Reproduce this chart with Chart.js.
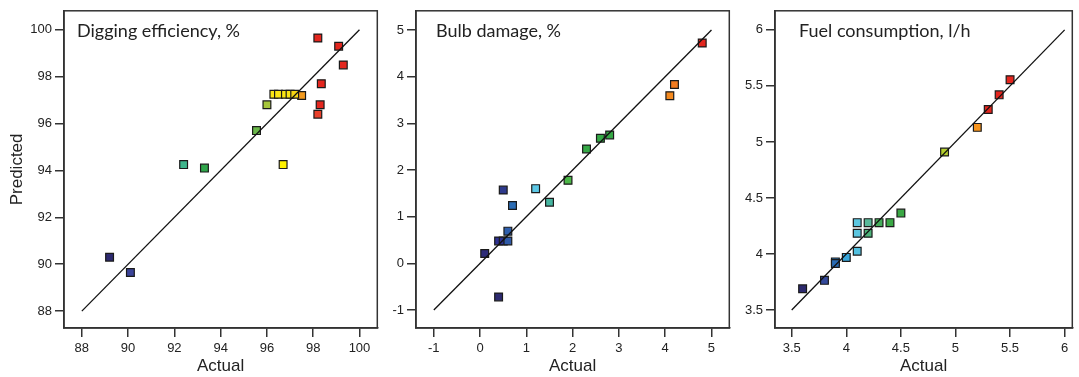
<!DOCTYPE html>
<html><head><meta charset="utf-8">
<script src="https://cdn.jsdelivr.net/npm/chart.js@4.4.0/dist/chart.umd.min.js"></script>
<style>
html,body{margin:0;padding:0;background:#fff;width:1079px;height:377px;overflow:hidden}
canvas{position:absolute;top:0}
</style></head><body>
<canvas id="c1" width="384" height="377" style="left:0px"></canvas>
<canvas id="c2" width="352" height="377" style="left:384px"></canvas>
<canvas id="c3" width="343" height="377" style="left:736px"></canvas>
<script>
// ---- Digging efficiency, % ----
const digActual = [98.2, 99.1, 99.3, 98.35, 98.3, 98.2, 97.5, 96.3, 96.5, 96.8, 97.0, 97.2, 96.0, 95.55, 92.4, 93.3, 96.7, 89.2, 90.1];
const digPredicted = [99.65, 99.3, 98.5, 97.7, 96.8, 96.4, 97.2, 97.25, 97.25, 97.25, 97.25, 97.25, 96.8, 95.7, 94.25, 94.1, 94.25, 90.3, 89.65];
const digLine = [88, 100];
const digTicks = [88, 90, 92, 94, 96, 98, 100];

// ---- Bulb damage, % ----
const bulbActual = [4.8, 4.2, 4.1, 2.8, 2.6, 2.3, 1.9, 1.2, 1.5, 0.5, 0.7, 0.6, 0.4, 0.5, 0.6, 0.1, 0.4];
const bulbPredicted = [4.72, 3.83, 3.59, 2.75, 2.68, 2.45, 1.78, 1.6, 1.31, 1.57, 1.24, 0.69, 0.48, 0.48, 0.48, 0.21, -0.72];
const bulbLine = [-1, 5];
const bulbTicks = [-1, 0, 1, 2, 3, 4, 5];

// ---- Fuel consumption, l/h ----
const fuelActual = [5.5, 5.4, 5.3, 5.2, 4.9, 4.5, 4.4, 4.3, 4.2, 4.1, 4.2, 4.1, 4.1, 4.0, 3.9, 3.9, 3.8, 3.6];
const fuelPredicted = [5.555, 5.42, 5.29, 5.13, 4.91, 4.365, 4.28, 4.28, 4.28, 4.28, 4.185, 4.185, 4.025, 3.97, 3.93, 3.915, 3.765, 3.69];
const fuelLine = [3.5, 6];
const fuelTicks = [3.5, 4, 4.5, 5, 5.5, 6];

// ---- point colours (style) ----
const digColors = ['#e3261e','#e3261e','#e3261e','#e3261e','#e3261e','#e8402a','#f39a1e',
  '#fbe614','#fbe614','#fbe614','#fbe614','#f5d612','#a6c63b','#6ab84a','#3fb58c','#2fa54a','#fff200','#2d2a70','#3b4499'];
const bulbColors = ['#e3261e','#f47c20','#f58a1f','#35a846','#35a846','#35a846','#4cb748','#5cc8e6','#45b5a0',
  '#2e3a8c','#2c6db5','#2f5fad','#2e3192','#2e3192','#2f5aa8','#2d2b78','#2d2a70'];
const fuelColors = ['#e3261e','#e3261e','#e3261e','#f7941d','#b5cf2f','#3aa845','#3aa845','#44ad5a','#5ab89a','#5cc6e0',
  '#4db37a','#5cc6e0','#52c0e0','#3aa8dc','#2a78bd','#2a6cb5','#344a9c','#2d2a6e'];

const AX = '#333333';
const TXT = '#222222';

const framePlugin = {
  id: 'frame',
  afterDatasetsDraw(chart, args, opts) {
    const {ctx, chartArea: a} = chart;
    ctx.save();
    ctx.strokeStyle = AX;
    ctx.lineWidth = 1.5;
    ctx.strokeRect(a.left, a.top, a.right - a.left, a.bottom - a.top);
    ctx.fillStyle = TXT;
    ctx.font = opts.font;
    ctx.textBaseline = 'alphabetic';
    ctx.textAlign = 'left';
    ctx.fillText(opts.text, a.left + opts.dx, opts.baseline);
    ctx.restore();
  }
};

function makeChart(id, p) {
  const pts = p.actual.map((v, i) => ({x: v, y: p.predicted[i]}));
  const line = p.line.map(v => ({x: v, y: v}));
  const tickFont = {family: "'Liberation Sans', Arial, sans-serif", size: 13};
  const titleFont = {family: "'Liberation Sans', Arial, sans-serif", size: 17};
  const fixTicks = (vals) => (s) => { s.ticks = vals.map(v => ({value: v})); };
  new Chart(document.getElementById(id), {
    type: 'scatter',
    data: {
      datasets: [
        {data: line, showLine: true, borderColor: '#111', borderWidth: 1.3, pointRadius: 0, order: 0},
        {data: pts, pointStyle: 'rect', pointRadius: 5.5, pointBorderWidth: 1.2,
         pointBackgroundColor: p.colors, pointBorderColor: '#1a1a1a', showLine: false, order: 1}
      ]
    },
    options: {
      responsive: false, animation: false,
      layout: {padding: {top: 10, right: p.padRight, left: 0, bottom: 0}},
      plugins: {legend: {display: false}, tooltip: {enabled: false},
        frame: {text: p.title, dx: p.titleDx, baseline: 37, font: "18px Lato, 'Open Sans', sans-serif"}},
      scales: {
        x: {
          type: 'linear', min: p.xmin, max: p.xmax,
          afterBuildTicks: fixTicks(p.ticks),
          afterFit: (s) => { s.height = 49; },
          grid: {drawOnChartArea: false, drawTicks: true, tickLength: 9, color: AX, lineWidth: 1.5},
          border: {display: true, color: AX, width: 1.5},
          ticks: {font: tickFont, color: TXT, padding: 4, maxRotation: 0, callback: (v) => String(v)},
          title: {display: true, text: 'Actual', font: titleFont, color: TXT, padding: {top: 0, bottom: 0}}
        },
        y: {
          type: 'linear', min: p.ymin, max: p.ymax,
          afterBuildTicks: fixTicks(p.ticks),
          afterFit: (s) => { s.width = p.yWidth; },
          grid: {drawOnChartArea: false, drawTicks: true, tickLength: 9, color: AX, lineWidth: 1.5},
          border: {display: true, color: AX, width: 1.5},
          ticks: {font: tickFont, color: TXT, padding: 3, callback: (v) => String(v)},
          title: {display: p.yTitle, text: 'Predicted', font: titleFont, color: TXT, padding: {top: 7, bottom: 0}}
        }
      }
    },
    plugins: [framePlugin]
  });
}

makeChart('c1', {actual: digActual, predicted: digPredicted, colors: digColors, line: digLine, ticks: digTicks,
  xmin: 87.23, xmax: 100.77, ymin: 87.28, ymax: 100.81, yWidth: 64, padRight: 2,
  title: 'Digging efficiency, %', titleDx: 13, yTitle: true});
makeChart('c2', {actual: bulbActual, predicted: bulbPredicted, colors: bulbColors, line: bulbLine, ticks: bulbTicks,
  xmin: -1.385, xmax: 5.385, ymin: -1.385, ymax: 5.41, yWidth: 32, padRight: 4,
  title: 'Bulb damage, %', titleDx: 20, yTitle: false});
makeChart('c3', {actual: fuelActual, predicted: fuelPredicted, colors: fuelColors, line: fuelLine, ticks: fuelTicks,
  xmin: 3.347, xmax: 6.07, ymin: 3.34, ymax: 6.17, yWidth: 39, padRight: 2,
  title: 'Fuel consumption, l/h', titleDx: 24, yTitle: false});
</script>
</body></html>
